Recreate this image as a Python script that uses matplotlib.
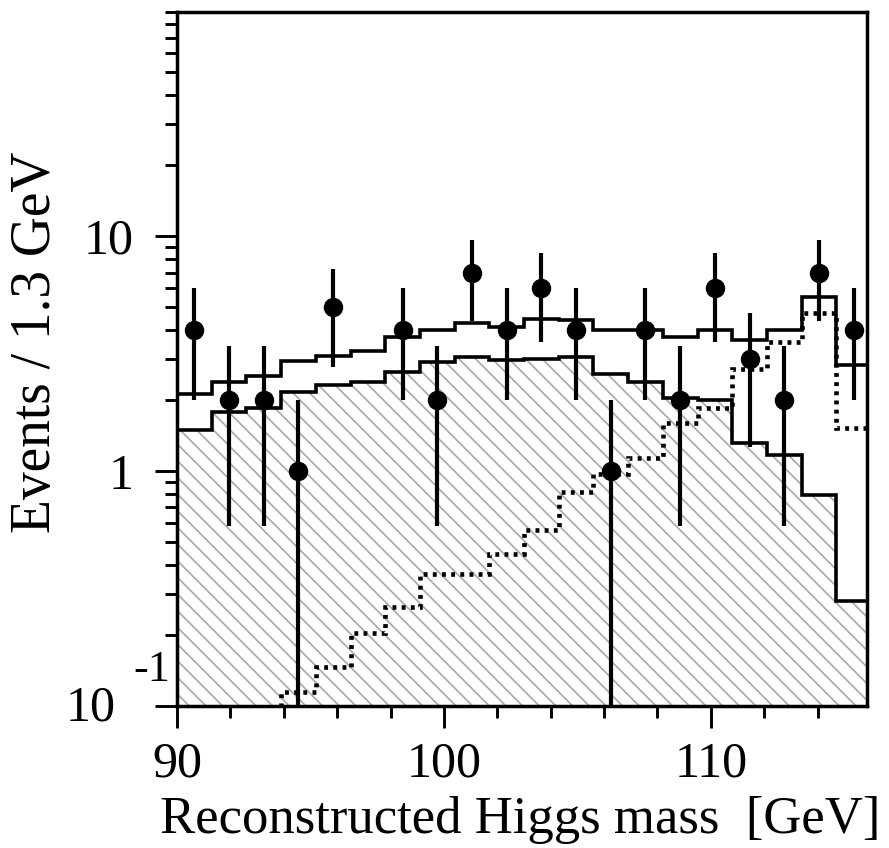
#Reconstructed Higgs mass distribution: data, background (hatched), total and signal
import numpy as np
import matplotlib
matplotlib.use("Agg")
import matplotlib.pyplot as plt

plt.rcParams['font.family'] = ['Liberation Serif', 'DejaVu Serif']
plt.rcParams['hatch.color'] = '#a8a8a8'
plt.rcParams['hatch.linewidth'] = 1.2

#bins of 1.3 GeV starting at 90 GeV
edges = 90 + 1.3 * np.arange(21)
observed = [4, 2, 2, 1, 5, 0, 4, 2, 7, 4, 6, 4, 1, 4, 2, 6, 3, 2, 7, 4]
background = [1.50, 1.79, 1.85, 2.17, 2.32, 2.40, 2.65, 2.92, 3.05, 2.97,
              2.99, 3.06, 2.60, 2.40, 2.04, 2.00, 1.32, 1.17, 0.79, 0.28]
total = [2.12, 2.40, 2.54, 2.95, 3.09, 3.25, 3.73, 4.00, 4.25, 4.09,
         4.42, 4.39, 3.98, 3.98, 3.73, 3.98, 3.63, 4.00, 5.52, 2.83]
signal = [0.05, 0.07, 0.09, 0.115, 0.146, 0.204, 0.265, 0.365, 0.365, 0.444,
          0.563, 0.816, 0.97, 1.14, 1.60, 1.85, 2.73, 3.55, 4.69, 1.52]

fig = plt.figure(figsize=(8.89, 8.48), dpi=100)
W, H = 889, 848
ax = fig.add_axes([177 / W, 1 - 706 / H, (867 - 177) / W, (706 - 12) / H])
ax.set_yscale('log')

#hatched background
ax.stairs(background, edges, baseline=0.01, fill=True, facecolor='white',
          edgecolor='#a8a8a8', linewidth=0, hatch='\\\\')
ax.stairs(background, edges, baseline=None, color='black', linewidth=2.6)
ax.stairs(total, edges, baseline=None, color='black', linewidth=2.6)
ax.stairs(signal, edges, baseline=None, color='black', linewidth=3.3,
          linestyle=(0, (0.85, 1.15)))

#data points with sqrt(n) errors
centers = 0.5 * (edges[:-1] + edges[1:])
obs = np.array(observed, dtype=float)
has = obs > 0
err = np.sqrt(obs)
lo = np.clip(obs - err, 1e-3, None)
ax.vlines(centers[has], lo[has], (obs + err)[has], color='black', linewidth=3.0, zorder=4)
ax.plot(centers[has], obs[has], 'o', color='black', markersize=13, zorder=5)

ax.set_xlim(90, 115.85)
ax.set_ylim(0.1, 90)

ax.set_xticks([90, 100, 110])
ax.set_xticks(np.arange(92, 116, 2), minor=True)
ax.set_yticks([0.1, 1, 10])
ax.set_yticklabels(['', '1', '10'])
ax.tick_params(axis='both', which='major', length=16, width=2.1, labelsize=36)
ax.tick_params(axis='both', which='minor', length=8.5, width=2.1)
ax.tick_params(axis='y', which='major', pad=15)
ax.tick_params(axis='x', which='major', pad=9)
ax.yaxis.set_minor_formatter(matplotlib.ticker.NullFormatter())
for s in ax.spines.values():
    s.set_linewidth(2.5)

#10^-1 label written out by hand like the original
fig.text(116 / W, 1 - 708 / H, '10', fontsize=36, ha='right', va='center')
fig.text(170 / W, 1 - 670 / H, '-1', fontsize=32, ha='right', va='center')

fig.text(36 / W, 1 - 342 / H, 'Events / 1.3 GeV', fontsize=40, rotation=90,
         ha='center', va='center')
fig.text(520 / W, 1 - 833 / H, 'Reconstructed Higgs mass  [GeV]', fontsize=38,
         ha='center', va='baseline')

fig.savefig('out.png', dpi=100)
